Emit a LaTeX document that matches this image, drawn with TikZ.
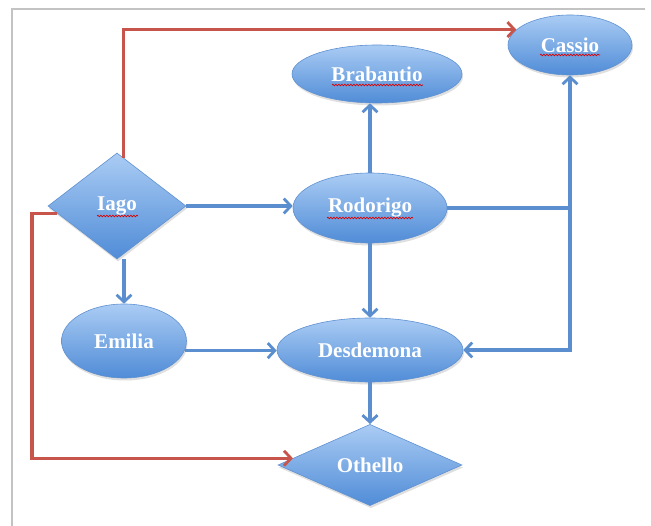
\documentclass[tikz,border=0pt]{standalone}
\usepackage{fontspec}
\setmainfont{Liberation Serif}
\usetikzlibrary{shapes.geometric,arrows.meta,shadows,decorations.pathmorphing,calc}
\definecolor{nodeborder}{RGB}{95,145,210}
\definecolor{nodetop}{RGB}{170,204,244}
\definecolor{nodebot}{RGB}{80,140,215}
\definecolor{bluearrow}{RGB}{90,142,206}
\definecolor{redarrow}{RGB}{200,85,75}
\definecolor{framegray}{RGB}{195,195,195}
\tikzset{
  person/.style={ellipse, draw=nodeborder, line width=0.6pt, top color=nodetop, bottom color=nodebot,
    inner sep=0pt, text=white, font=\fontsize{21}{23}\selectfont\bfseries,
    drop shadow={opacity=0.25, shadow xshift=1pt, shadow yshift=-2.5pt}},
  chief/.style={diamond, draw=nodeborder, line width=0.6pt, top color=nodetop, bottom color=nodebot,
    inner sep=0pt, text=white, font=\fontsize{21}{23}\selectfont\bfseries,
    drop shadow={opacity=0.25, shadow xshift=1pt, shadow yshift=-2.5pt}},
  blink/.style={draw=bluearrow, line width=3.2pt, -{Straight Barb[length=7pt,width=15pt,line width=2.8pt]}},
  bline/.style={draw=bluearrow, line width=3.2pt},
  rlink/.style={draw=redarrow, line width=3.2pt, -{Straight Barb[length=7pt,width=15pt,line width=2.8pt]}},
  squig/.style={draw=red!85!black, line width=0.7pt, decorate, decoration={snake, segment length=3pt, amplitude=0.8pt}},
  framel/.style={draw=framegray, line width=1.2pt}
}
\begin{document}
\begin{tikzpicture}[x=1pt,y=-1pt]
\useasboundingbox (0,0) rectangle (651,526);
\fill[white] (0,0) rectangle (651,526);
\coordinate (f1) at (12,526);
\coordinate (f2) at (12,9);
\coordinate (f3) at (645,9);
\draw[framel] (f1) -- (f2) -- (f3);

\node[person, minimum width=124pt, minimum height=60pt] (cassio) at (570,45) {Cassio};
\node[person, minimum width=170pt, minimum height=58pt] (brabantio) at (377,74) {Brabantio};
\node[person, minimum width=154pt, minimum height=70pt] (rodorigo) at (370,208) {Rodorigo};
\node[chief, minimum width=138pt, minimum height=106pt] (iago) at (117,206) {Iago};
\node[person, minimum width=125pt, minimum height=74pt] (emilia) at (124,341) {Emilia};
\node[person, minimum width=186pt, minimum height=64pt] (desdemona) at (370,350) {Desdemona};
\node[chief, minimum width=184pt, minimum height=76pt] (othello) at (370,465) {Othello};

% spell-check underlines
\draw[squig] ($(iago.center)+(-20,10)$) -- ($(iago.center)+(21,10)$);
\draw[squig] ($(cassio.center)+(-30,10)$) -- ($(cassio.center)+(30,10)$);
\draw[squig] ($(brabantio.center)+(-45,11)$) -- ($(brabantio.center)+(46,11)$);
\draw[squig] ($(rodorigo.center)+(-43,10)$) -- ($(rodorigo.center)+(43,10)$);

% blue connectors
\draw[blink] (iago.east) -- (iago.east -| rodorigo.west);
\draw[blink] (iago.south -| emilia.north) -- (emilia.north);
\draw[blink] (rodorigo.north) -- (rodorigo.north |- brabantio.south);
\draw[blink] (rodorigo.south) -- (desdemona.north);
\coordinate (junc) at (rodorigo.east -| cassio.south);
\draw[bline] (rodorigo.east) -- (junc);
\draw[blink] (junc) -- (cassio.south);
\draw[blink] (junc) |- (desdemona.east);
\draw[blink] (emilia.-9) -- (emilia.-9 -| desdemona.west);
\draw[blink] (desdemona.south) -- (othello.north);

% red connectors
\draw[rlink] (iago.82) |- (cassio.164);
\coordinate (rcorner) at (32,212);
\draw[rlink] (iago.187) -- (iago.187 -| rcorner) |- (othello.175);
\end{tikzpicture}
\end{document}
